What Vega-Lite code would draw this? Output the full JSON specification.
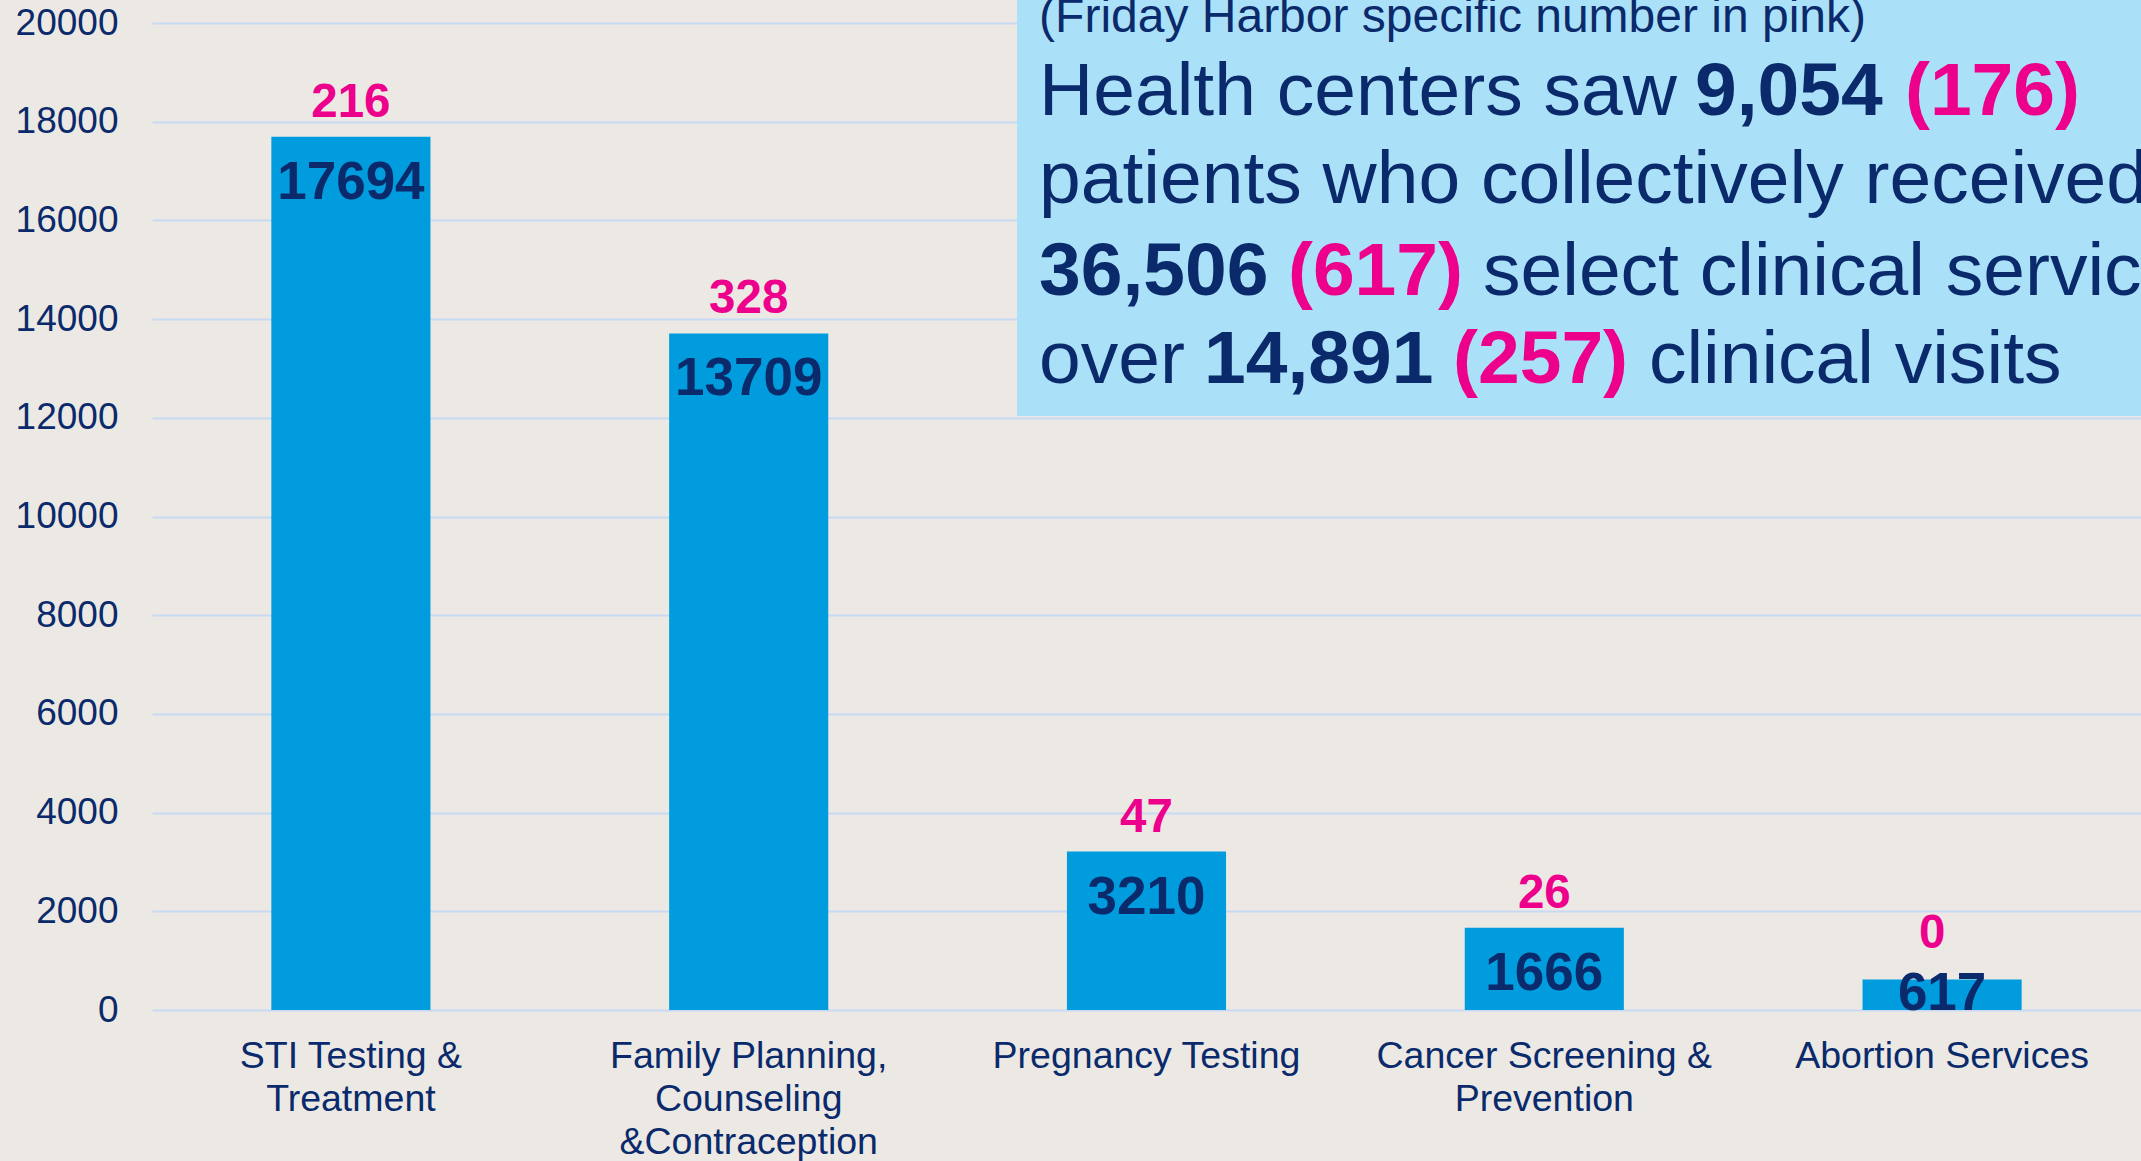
{
  "$schema": "https://vega.github.io/schema/vega-lite/v6.json",
  "width": 1989,
  "height": 987,
  "autosize": {"type": "none"},
  "padding": {"left": 152, "top": 23, "right": 0, "bottom": 151},
  "background": "#ECE9E4",
  "config": {"view": {"stroke": null}, "font": "Liberation Sans"},
  "datasets": {
    "services": [
      {"service": "STI Testing &|Treatment", "total": 17694, "local": 216},
      {"service": "Family Planning,|Counseling|&Contraception", "total": 13709, "local": 328},
      {"service": "Pregnancy Testing", "total": 3210, "local": 47},
      {"service": "Cancer Screening &|Prevention", "total": 1666, "local": 26},
      {"service": "Abortion Services", "total": 617, "local": 0}
    ],
    "box": [{"left": 43.49, "right": 100, "top": 102.4, "bottom": 60.18}],
    "note": [
      {"kind": "note", "text": "(Friday Harbor specific number in pink)", "col": 44.6, "row": 99.09},
      {"kind": "words", "text": "Health centers saw", "col": 44.6, "row": 90.68},
      {"kind": "total", "text": "9,054", "col": 77.58, "row": 90.68},
      {"kind": "local", "text": "(176)", "col": 88.13, "row": 90.68},
      {"kind": "words", "text": "patients who collectively received", "col": 44.6, "row": 81.76},
      {"kind": "total", "text": "36,506", "col": 44.6, "row": 72.44},
      {"kind": "local", "text": "(617)", "col": 57.11, "row": 72.44},
      {"kind": "words", "text": "select clinical services", "col": 66.92, "row": 72.44},
      {"kind": "words", "text": "over", "col": 44.6, "row": 63.53},
      {"kind": "total", "text": "14,891", "col": 52.89, "row": 63.53},
      {"kind": "local", "text": "(257)", "col": 65.41, "row": 63.53},
      {"kind": "words", "text": "clinical visits", "col": 75.26, "row": 63.53}
    ]
  },
  "layer": [
    {
      "data": {"name": "services"},
      "encoding": {
        "x": {
          "field": "service",
          "type": "nominal",
          "sort": null,
          "scale": {"paddingInner": 0.6, "paddingOuter": 0.3},
          "axis": {
            "title": null,
            "labelExpr": "split(datum.label, '|')",
            "labelAngle": 0,
            "labelFontSize": 37.5,
            "labelColor": "#0A2A6B",
            "labelLineHeight": 43,
            "labelPadding": 27,
            "labelLimit": 0,
            "domain": false,
            "ticks": false,
            "grid": false
          }
        },
        "y": {
          "field": "total",
          "type": "quantitative",
          "scale": {"domain": [0, 20000], "nice": false},
          "axis": {
            "title": null,
            "values": [0, 2000, 4000, 6000, 8000, 10000, 12000, 14000, 16000, 18000, 20000],
            "format": "d",
            "labelFontSize": 37,
            "labelColor": "#0A2A6B",
            "labelPadding": 34,
            "domain": false,
            "ticks": false,
            "grid": true,
            "gridColor": "#C8DAF3",
            "gridWidth": 2
          }
        }
      },
      "layer": [
        {"mark": {"type": "bar", "color": "#009CDD"}},
        {
          "transform": [{"filter": "datum.total >= 1000"}],
          "mark": {"type": "text", "baseline": "alphabetic", "dy": 62, "fontSize": 53, "fontWeight": "bold", "color": "#0A2A6B"},
          "encoding": {"text": {"field": "total", "type": "quantitative", "format": "d"}}
        },
        {
          "transform": [{"filter": "datum.total < 1000"}],
          "mark": {"type": "text", "baseline": "alphabetic", "dy": 30, "fontSize": 53, "fontWeight": "bold", "color": "#0A2A6B"},
          "encoding": {"text": {"field": "total", "type": "quantitative", "format": "d"}}
        },
        {
          "transform": [{"filter": "datum.total >= 1000"}],
          "mark": {"type": "text", "baseline": "alphabetic", "dy": -20, "fontSize": 47.5, "fontWeight": "bold", "color": "#EC008C"},
          "encoding": {"text": {"field": "local", "type": "quantitative", "format": "d"}}
        },
        {
          "transform": [{"filter": "datum.total < 1000"}],
          "mark": {"type": "text", "baseline": "alphabetic", "dy": -32, "dx": -10, "fontSize": 47.5, "fontWeight": "bold", "color": "#EC008C"},
          "encoding": {"text": {"field": "local", "type": "quantitative", "format": "d"}}
        }
      ]
    },
    {
      "layer": [
        {
          "data": {"name": "box"},
          "mark": {"type": "rect", "color": "#ABE1F8"},
          "encoding": {
            "x": {"field": "left", "type": "quantitative", "scale": {"domain": [0, 100]}, "axis": null},
            "x2": {"field": "right"},
            "y": {"field": "top", "type": "quantitative", "scale": {"domain": [0, 100]}, "axis": null},
            "y2": {"field": "bottom"}
          }
        },
        {
          "data": {"name": "note"},
          "transform": [{"filter": "datum.kind == 'note'"}],
          "mark": {"type": "text", "align": "left", "baseline": "alphabetic", "fontSize": 48, "color": "#0A2A6B"},
          "encoding": {
            "x": {"field": "col", "type": "quantitative", "scale": {"domain": [0, 100]}, "axis": null},
            "y": {"field": "row", "type": "quantitative", "scale": {"domain": [0, 100]}, "axis": null},
            "text": {"field": "text"}
          }
        },
        {
          "data": {"name": "note"},
          "transform": [{"filter": "datum.kind == 'words'"}],
          "mark": {"type": "text", "align": "left", "baseline": "alphabetic", "fontSize": 75, "color": "#0A2A6B"},
          "encoding": {
            "x": {"field": "col", "type": "quantitative", "scale": {"domain": [0, 100]}, "axis": null},
            "y": {"field": "row", "type": "quantitative", "scale": {"domain": [0, 100]}, "axis": null},
            "text": {"field": "text"}
          }
        },
        {
          "data": {"name": "note"},
          "transform": [{"filter": "datum.kind == 'total'"}],
          "mark": {"type": "text", "align": "left", "baseline": "alphabetic", "fontSize": 75, "fontWeight": "bold", "color": "#0A2A6B"},
          "encoding": {
            "x": {"field": "col", "type": "quantitative", "scale": {"domain": [0, 100]}, "axis": null},
            "y": {"field": "row", "type": "quantitative", "scale": {"domain": [0, 100]}, "axis": null},
            "text": {"field": "text"}
          }
        },
        {
          "data": {"name": "note"},
          "transform": [{"filter": "datum.kind == 'local'"}],
          "mark": {"type": "text", "align": "left", "baseline": "alphabetic", "fontSize": 75, "fontWeight": "bold", "color": "#EC008C"},
          "encoding": {
            "x": {"field": "col", "type": "quantitative", "scale": {"domain": [0, 100]}, "axis": null},
            "y": {"field": "row", "type": "quantitative", "scale": {"domain": [0, 100]}, "axis": null},
            "text": {"field": "text"}
          }
        }
      ]
    }
  ],
  "resolve": {"scale": {"x": "independent", "y": "independent"}, "axis": {"x": "independent", "y": "independent"}}
}
